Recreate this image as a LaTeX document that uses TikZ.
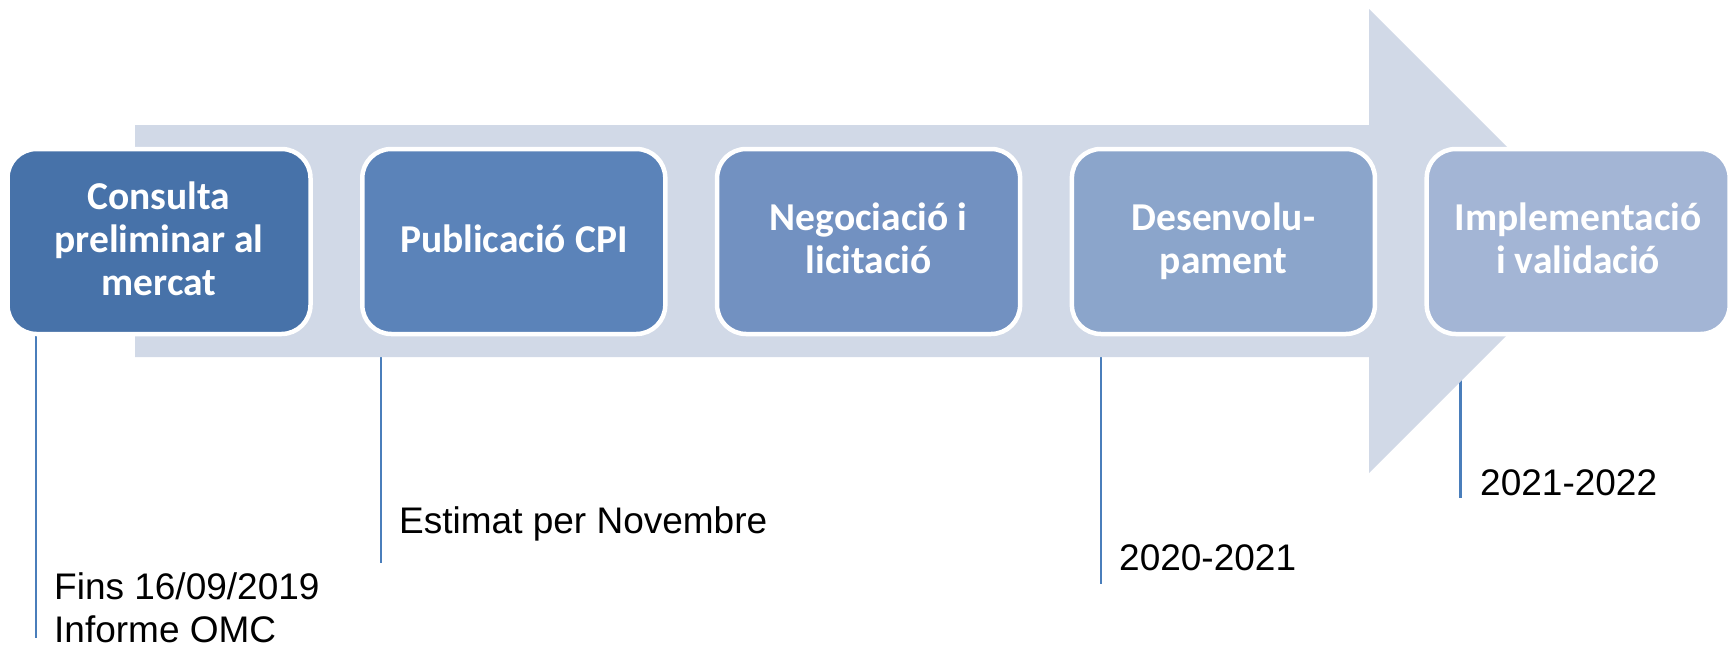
\documentclass[tikz,border=0pt]{standalone}
\usepackage{fontspec}
\setmainfont{Liberation Sans}
\newfontfamily\boxfont{Carlito}
\definecolor{bxa}{HTML}{4772A9}
\definecolor{bxb}{HTML}{5B83B9}
\definecolor{bxc}{HTML}{7291C1}
\definecolor{bxd}{HTML}{8BA5CB}
\definecolor{bxe}{HTML}{A3B5D5}
\definecolor{arrowfill}{HTML}{D1D9E7}
\definecolor{calloutblue}{HTML}{4A7EBB}
\newcommand\bxs{\rule[-11pt]{0pt}{43pt}}
\pgfdeclarelayer{lineslayer}
\pgfdeclarelayer{arrowlayer}
\pgfsetlayers{lineslayer,arrowlayer,main}
\tikzset{
  stepbox/.style={draw=white, line width=4.5pt, rounded corners=29pt,
    minimum width=303pt, minimum height=185pt, inner sep=0pt,
    align=center, text=white,
    font=\boxfont\bfseries\fontsize{39.5}{43}\selectfont},
  datelabel/.style={inner sep=0pt, text=black,
    font=\fontsize{37}{43}\selectfont},
  callout/.style={draw=calloutblue, line width=2.2pt}
}
\begin{document}
\begin{tikzpicture}[x=1pt,y=-1pt]
\useasboundingbox (0,0) rectangle (1733,645);
% boxes
\node[stepbox, fill=bxa] (b1) at (159,241.5) {\bxs Consulta\\\bxs preliminar al\\\bxs mercat};
\node[stepbox, fill=bxb] (b2) at (513.8,241.5) {\bxs Publicació CPI};
\node[stepbox, fill=bxc] (b3) at (868.6,241.5) {\bxs Negociació i\\\bxs licitació};
\node[stepbox, fill=bxd] (b4) at (1223.4,241.5) {\bxs Desenvolu-\\\bxs pament};
\node[stepbox, fill=bxe] (b5) at (1578.2,241.5) {\bxs Implementació\\\bxs i validació};
% big arrow
\begin{pgfonlayer}{arrowlayer}
\fill[arrowfill] (135,125) -- (1369,125) -- (1369,9) -- (1601,241)
  -- (1369,473) -- (1369,357) -- (135,357) -- cycle;
\end{pgfonlayer}
% labels
\node[datelabel, anchor=north west, align=left] (t1) at (54,567)
  {\bxs Fins 16/09/2019\\\bxs Informe OMC};
\node[datelabel, anchor=base west] (t2) at (399,533) {Estimat per Novembre};
\node[datelabel, anchor=base west] (t3) at (1119,570) {2020-2021};
\node[datelabel, anchor=base west] (t4) at (1480,495) {2021-2022};
% callout lines
\coordinate (e1) at (36,638);
\coordinate (e2) at (381,563);
\coordinate (e3) at (1101,584);
\coordinate (e4) at (1460.5,498);
\begin{pgfonlayer}{lineslayer}
\draw[callout] (b1.south -| e1) -- (e1);
\draw[callout] (b2.south -| e2) -- (e2);
\draw[callout] (b4.south -| e3) -- (e3);
\draw[callout] (b5.south -| e4) -- (e4);
\end{pgfonlayer}
\end{tikzpicture}
\end{document}
